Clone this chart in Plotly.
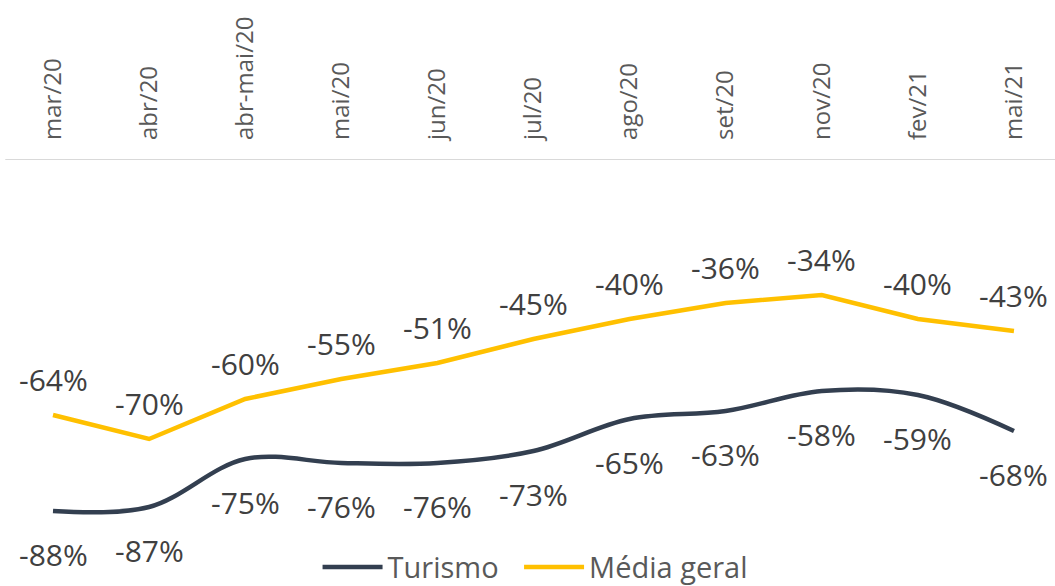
import plotly.graph_objects as go

categories = ["mar/20", "abr/20", "abr-mai/20", "mai/20", "jun/20", "jul/20",
              "ago/20", "set/20", "nov/20", "fev/21", "mai/21"]
turismo = [-88, -87, -75, -76, -76, -73, -65, -63, -58, -59, -68]
media_geral = [-64, -70, -60, -55, -51, -45, -40, -36, -34, -40, -43]

NAVY = "#333F50"
GOLD = "#FFC000"
FONT = "Open Sans"

fig = go.Figure()
fig.add_trace(go.Scatter(x=categories, y=turismo, name="Turismo", mode="lines",
                         line=dict(color=NAVY, width=4.5, shape="spline", smoothing=1.0),
                         hoverinfo="skip", legend="legend"))
fig.add_trace(go.Scatter(x=categories, y=media_geral, name="Média geral", mode="lines",
                         line=dict(color=GOLD, width=4.5),
                         hoverinfo="skip", legend="legend2"))

annotations = []
for c, v in zip(categories, media_geral):
    annotations.append(dict(x=c, y=v, text=f"{v}%", showarrow=False, yshift=36,
                            font=dict(size=30, color="#404040", family=FONT)))
for c, v in zip(categories, turismo):
    annotations.append(dict(x=c, y=v, text=f"{v}%", showarrow=False, yshift=-43,
                            font=dict(size=30, color="#404040", family=FONT)))

legend_style = dict(orientation="h", xanchor="left", y=-0.063, yanchor="middle",
                    font=dict(size=29, color="#595959", family=FONT),
                    itemwidth=60, tracegroupgap=0, bgcolor="rgba(0,0,0,0)")

fig.update_layout(
    width=1055, height=586,
    margin=dict(l=0, r=0, t=159, b=43, autoexpand=False),
    paper_bgcolor="white", plot_bgcolor="white",
    annotations=annotations,
    showlegend=True,
    legend=dict(x=0.301, **legend_style),
    legend2=dict(x=0.492, **legend_style),
    shapes=[dict(type="line", xref="paper", yref="y", x0=0.005, x1=1, y0=0, y1=0,
                 line=dict(color="#D9D9D9", width=2), layer="below")],
    xaxis=dict(type="category", side="top", range=[-0.5515, 10.427],
               tickangle=-90, tickfont=dict(size=24, color="#595959", family=FONT),
               showline=False, showgrid=False, ticks="", ticklabelstandoff=18,
               fixedrange=True),
    yaxis=dict(range=[-96, 0], visible=False, showgrid=False, zeroline=False,
               fixedrange=True),
)

fig.write_html("out.html", config={"displayModeBar": False},
               post_script="document.body.style.margin='0';document.body.style.overflow='hidden';")
